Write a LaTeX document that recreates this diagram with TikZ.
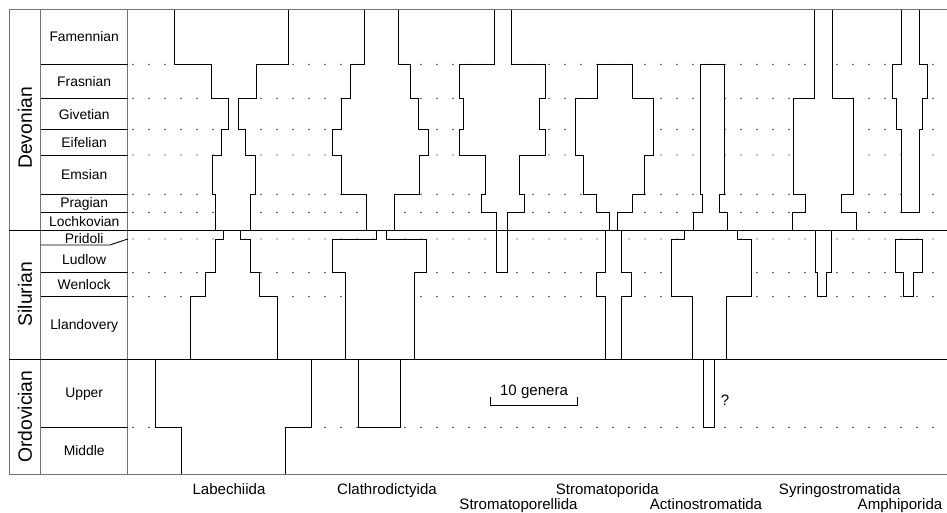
\documentclass[tikz,border=0pt]{standalone}
\usepackage{fontspec}
\setmainfont{Liberation Sans}
\tikzset{
  clade/.style={draw=black, fill=white, line width=0.7pt},
  frame/.style={draw=black!55, line width=0.7pt},
  stagelbl/.style={font=\fontsize{10.4}{12}\selectfont, text height=7.4pt, text depth=0pt, inner sep=0pt},
  periodlbl/.style={font=\fontsize{14.5}{17}\selectfont, rotate=90, text height=10.4pt, text depth=0pt, inner sep=0pt},
  cladelbl/.style={font=\fontsize{11.3}{13}\selectfont, text height=8.1pt, text depth=0pt, inner sep=0pt}
}

\begin{document}
\begin{tikzpicture}[x=0.75pt,y=-0.75pt]
\useasboundingbox (0,0) rectangle (947,513);

% dotted stage boundaries
\foreach \y in {64.3,98.3,129.3,155,194.3,212.3,239,272.7,296.7,427.3}
  \foreach \x in {133,149,...,945}
    \fill (\x,\y) circle (0.55pt);

% Labechiida
\draw[clade] (174.3,9.5) |- (211,64.3) |- (228.3,98.3) |- (221,129.3) |- (212.3,155)
  |- (215,194.3) |- (223.3,230.7) |- (215,239) |- (205,272.7) |- (190.3,296.7)
  |- (155,359) |- (181,427.3) |- (285.7,474) |- (311.3,427.3) |- (277.3,359)
  |- (259.3,296.7) |- (250,272.7) |- (240,239) |- (250.7,230.7) |- (255.3,194.3)
  |- (245.7,155) |- (238.3,129.3) |- (256,98.3) |- (288.7,64.3) |- (174.3,9.5) -- cycle;

% Clathrodictyida
\draw[clade] (364,9.5) |- (350.7,64.3) |- (341.3,98.3) |- (332.7,129.3) |- (341.3,155)
  |- (366.7,194.3) |- (376,230.7) |- (332.7,239) |- (345.3,272.7) |- (358.3,359)
  |- (400.3,427.3) |- (414.3,359) |- (426,272.7) |- (386,239) |- (394.3,230.7)
  |- (419,194.3) |- (428.3,155) |- (418.3,129.3) |- (410,98.3) |- (398.3,64.3)
  |- (364,9.5) -- cycle;

% Stromatoporellida
\draw[clade] (494.7,9.5) |- (459.7,64.3) |- (463,98.3) |- (459.7,129.3) |- (485,155)
  |- (481,194.3) |- (496.7,212.3) |- (507.3,272.7) |- (524,212.3) |- (519.7,194.3)
  |- (545.7,155) |- (539.7,129.3) |- (545.7,98.3) |- (511.3,64.3) |- (494.7,9.5) -- cycle;

% Stromatoporida
\draw[clade] (597.7,64.3) |- (575,98.3) |- (583.7,155) |- (596.7,194.3) |- (609.3,212.3)
  |- (605.7,230.7) |- (596,272.7) |- (605.7,296.7) |- (621.7,359) |- (631.7,296.7)
  |- (621.7,272.7) |- (617.3,230.7) |- (632.7,212.3) |- (644,194.3) |- (653.3,155)
  |- (632.3,98.3) |- (597.7,64.3) -- cycle;

% Actinostromatida
\draw[clade] (700.3,64.3) |- (702.7,194.3) |- (693.3,212.3) |- (684,230.7) |- (671.7,239)
  |- (692.7,296.7) |- (703,359) |- (714.3,427.3) |- (726.7,359) |- (751,296.7)
  |- (737.7,239) |- (727.3,230.7) |- (719.3,212.3) |- (724.3,194.3) |- (700.3,64.3) -- cycle;

% Syringostromatida
\draw[clade] (814.7,9.5) |- (793,98.3) |- (805,194.3) |- (792.7,212.3) |- (815,230.7)
  |- (817.7,272.7) |- (826,296.7) |- (831.7,272.7) |- (856,230.7) |- (841,212.3)
  |- (853.3,194.3) |- (832,98.3) |- (814.7,9.5) -- cycle;

% Amphiporida
\draw[clade] (901,9.5) |- (892.7,64.3) |- (896.7,98.3) |- (901,129.3) |- (919,212.3)
  |- (922.7,129.3) |- (927.3,98.3) |- (919,64.3) |- (901,9.5) -- cycle;
\draw[clade] (895.7,239) |- (903.7,272.7) |- (913.7,296.7) |- (922.3,272.7) |- (895.7,239) -- cycle;

% frame and time scale
\draw[frame] (947,9.5) -- (9,9.5) -- (9,474) -- (947,474);
\draw[frame] (40.7,9.5) -- (40.7,474);
\draw[frame] (127.7,9.5) -- (127.7,474);
\draw[line width=0.7pt] (9,230.7) -- (947,230.7);
\draw[line width=0.7pt] (9,359) -- (947,359);
\foreach \y in {64.3,98.3,129.3,155,194.3,212.3,272.7,296.7,427.3}
  \draw[line width=0.7pt] (40.7,\y) -- (127.7,\y);
\draw[line width=0.7pt] (40.7,245) -- (110,245) -- (127.7,239);

\node[periodlbl] (dev) at (25,128) {Devonian};
\node[periodlbl] (sil) at (25,294) {Silurian};
\node[periodlbl] (ord) at (25,416.7) {Ordovician};

\node[stagelbl] (fam) at (84.2,36.7) {Famennian};
\node[stagelbl] (fras) at (84.2,81.8) {Frasnian};
\node[stagelbl] (giv) at (84.2,114.5) {Givetian};
\node[stagelbl] (eif) at (84.2,142.4) {Eifelian};
\node[stagelbl] (ems) at (84.2,174.4) {Emsian};
\node[stagelbl] (prag) at (84.2,202.8) {Pragian};
\node[stagelbl] (loch) at (84.2,221.6) {Lochkovian};
\node[stagelbl] (prid) at (84.2,238.3) {Pridoli};
\node[stagelbl] (lud) at (84.2,259.8) {Ludlow};
\node[stagelbl] (wen) at (84.2,284.5) {Wenlock};
\node[stagelbl] (llan) at (84.2,324.8) {Llandovery};
\node[stagelbl] (upper) at (84.2,392.5) {Upper};
\node[stagelbl] (middle) at (84.2,450.3) {Middle};

% scale bar
\draw[line width=0.7pt] (490,396.7) |- (577.7,405.3) -- (577.7,396.7);
\node[cladelbl] (genera) at (534,390.6) {10 genera};
\node[cladelbl] (query) at (725,400) {?};

\node[cladelbl] (labe) at (229,489) {Labechiida};
\node[cladelbl] (clath) at (387,489) {Clathrodictyida};
\node[cladelbl] (stromla) at (518.5,504.5) {Stromatoporellida};
\node[cladelbl] (strom) at (607.3,489) {Stromatoporida};
\node[cladelbl] (actino) at (706,504.5) {Actinostromatida};
\node[cladelbl] (syringo) at (839.7,489) {Syringostromatida};
\node[cladelbl] (amphi) at (900,504.5) {Amphiporida};

\end{tikzpicture}
\end{document}
